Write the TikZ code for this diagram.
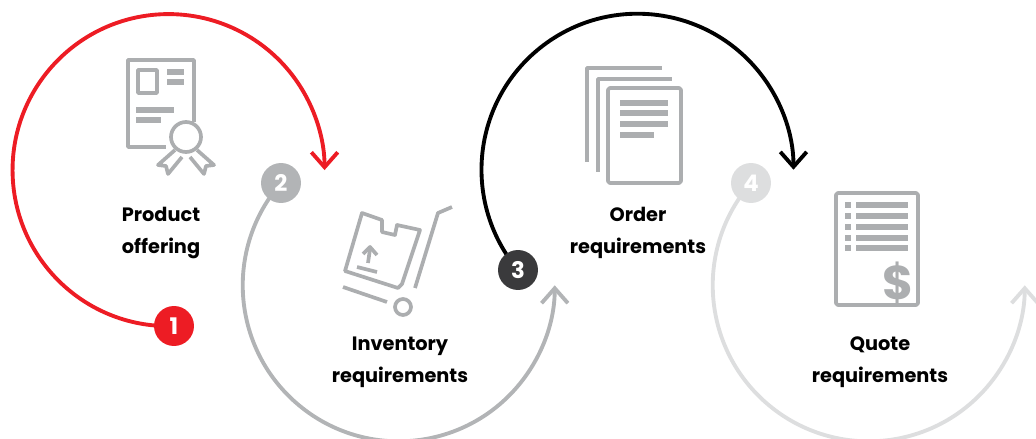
\documentclass[tikz,border=0pt]{standalone}
\usepackage{fontspec}
\setmainfont{Poppins}
\usetikzlibrary{
        arrows.meta,
        backgrounds,
        positioning
    }
\definecolor{abbred}{RGB}{237,28,36}
\definecolor{ringgray}{RGB}{178,180,182}
\definecolor{palegray}{RGB}{221,222,223}
\definecolor{badgedark}{RGB}{58,58,60}
\definecolor{icongray}{RGB}{172,174,176}
\tikzset{>={Straight Barb[length=8.5pt,width=15pt]},x=0.02cm,y=0.02cm}
\tikzset{badge/.style={circle,fill=#1,text=white,minimum size=0.8cm,inner sep=0pt,font=\bfseries\fontsize{13}{13}\selectfont}}
\tikzset{ring/.style={->,line width=2.2pt,draw=#1}}
\tikzset{caption/.style={align=center,inner sep=0pt,font=\bfseries\fontsize{11}{18}\selectfont}}

\begin{document}
\begin{tikzpicture}[icon/.style={draw=icongray,line width=2.1pt,line join=round},
                    bar/.style={draw=icongray,line width=3pt}]
                \useasboundingbox (0,0) rectangle (1036,-439);
                \node[badge=abbred] (b1) at (174,-326) {1};
                \node[badge=ringgray] (b2) at (281,-183) {2};
                \node[badge=badgedark] (b3) at (518,-270) {3};
                \node[badge=palegray] (b4) at (751,-183) {4};
                \node[caption] (t1) at (161,-233) {Product\\offering};
                \node[caption] (t2) at (400,-362) {Inventory\\requirements};
                \node[caption] (t3) at (638,-233) {Order\\requirements};
                \node[caption] (t4) at (880,-362) {Quote\\requirements};
                \begin{scope}[on background layer]
                    \draw[ring=abbred] (b1.center) arc[start angle=272, end angle=0, radius=156];
                    \draw[ring=ringgray] (b2.center) arc[start angle=139, end angle=360, radius=156];
                    \draw[ring=black] (b3.center) arc[start angle=220, end angle=0, radius=156];
                    \draw[ring=palegray] (b4.center) arc[start angle=139, end angle=360, radius=156];
                \end{scope}
                % certificate
                \draw[icon] (194,-122) -- (194,-60) -- (128,-60) -- (128,-147) -- (166,-147);
                \draw[icon] (138,-70) rectangle (157,-93);
                \draw[bar] (167,-72) -- (184,-72) (167,-82) -- (184,-82);
                \draw[bar] (136,-110) -- (174,-110) (136,-120) -- (161,-120);
                \draw[icon] (186,-137) circle (15);
                \draw[icon] (175,-150) -- (158,-165) -- (166,-166) -- (168,-174) -- (182,-157);
                \draw[icon] (197,-150) -- (214,-165) -- (206,-166) -- (204,-174) -- (190,-157);
                % trolley
                \draw[icon] (362,-213) -- (382,-220) -- (382,-232) -- (395,-235) -- (397,-225) -- (420,-230)
                    -- (402,-284) -- (398,-288) -- (345,-271) -- cycle;
                \draw[icon] (368,-263) -- (370,-249);
                \draw[icon] (363,-254) -- (370,-247) -- (377,-255);
                \draw[icon] (357,-267) -- (377,-272);
                \draw[icon] (343,-287) -- (387,-302);
                \draw[icon] (452,-207) -- (438,-213) -- (415,-288);
                \draw[icon] (403,-307) circle (8);
                % order pages
                \draw[icon] (587,-162) -- (587,-68) -- (662,-68);
                \draw[icon] (598,-172) -- (598,-79) -- (672,-79);
                \draw[icon,rounded corners=1pt] (608,-88) rectangle (681,-183);
                \draw[bar] (620,-103) -- (668,-103) (620,-113) -- (668,-113) (620,-124) -- (668,-124) (620,-135) -- (654,-135);
                % quote sheet
                \draw[icon,rounded corners=1pt] (836,-193) rectangle (918,-305);
                \foreach \y in {205,216,227,238,248} {
                    \draw[bar] (845,-\y) -- (851,-\y) (856,-\y) -- (908,-\y);
                }
                \node[text=icongray,font=\bfseries\fontsize{27}{27}\selectfont] (dollar) at (898,-283) {\$};
            \end{tikzpicture}
\end{document}
